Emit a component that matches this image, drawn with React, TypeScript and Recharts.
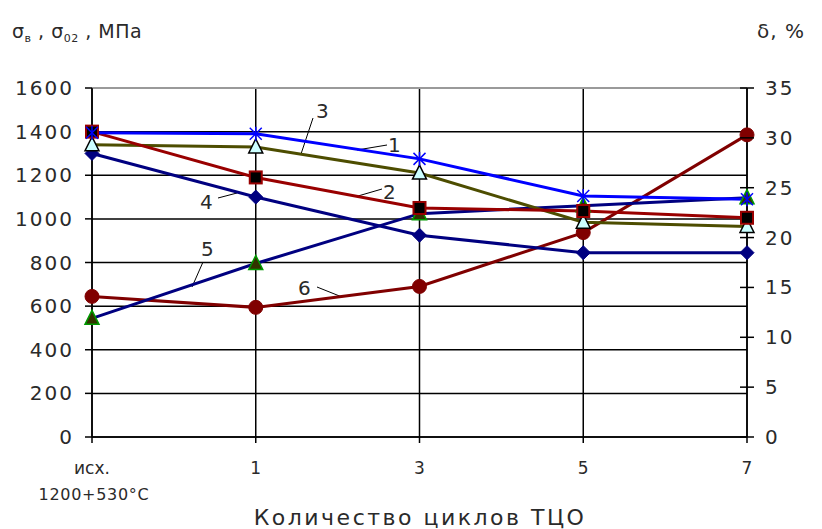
import React from 'react';
import { LineChart, Line, XAxis, YAxis, CartesianGrid, ReferenceLine, Customized } from 'recharts';

const categories = ['исх.', '1', '3', '5', '7'];
const series1 = [1395, 1390, 1275, 1105, 1090];
const series2 = [1400, 1190, 1050, 1036, 1005];
const series3 = [1340, 1330, 1210, 985, 965];
const series4 = [1300, 1100, 925, 845, 845];
const series5 = [11.9, 17.4, 22.4, 23.2, 24.0];
const series6 = [14.1, 13.0, 15.1, 20.5, 30.3];
const leftTicks = [0, 200, 400, 600, 800, 1000, 1200, 1400, 1600];
const rightTicks = [0, 5, 10, 15, 20, 25, 30, 35];

const data = categories.map((c, i) => ({
  cat: c,
  s1: series1[i],
  s2: series2[i],
  s3: series3[i],
  s4: series4[i],
  s5: series5[i],
  s6: series6[i],
}));

const FONT = 'DejaVu Sans, Liberation Sans, sans-serif';
const TXT = '#2a2a2a';

const StarDot = (p: any) => {
  const { cx, cy, index } = p;
  const r = 6;
  return (
    <g key={'st' + index} stroke="#0000ff" strokeWidth={1.5}>
      <line x1={cx - r} y1={cy - r} x2={cx + r} y2={cy + r} />
      <line x1={cx - r} y1={cy + r} x2={cx + r} y2={cy - r} />
      <line x1={cx} y1={cy - r - 1} x2={cx} y2={cy + r + 1} />
    </g>
  );
};

const SquareDot = (p: any) => {
  const { cx, cy, index } = p;
  return <rect key={'sq' + index} x={cx - 6} y={cy - 6} width={12} height={12} fill="#000" stroke="#990000" strokeWidth={2} />;
};

const TriDot = (fill: string, stroke: string, tag: string) => (p: any) => {
  const { cx, cy, index } = p;
  const s = 7;
  return (
    <polygon
      key={tag + index}
      points={`${cx},${cy - s - 1} ${cx - s},${cy + s - 1} ${cx + s},${cy + s - 1}`}
      fill={fill}
      stroke={stroke}
      strokeWidth={1.5}
    />
  );
};

const DiamondDot = (p: any) => {
  const { cx, cy, index } = p;
  const s = 7;
  return <polygon key={'dm' + index} points={`${cx},${cy - s} ${cx + s},${cy} ${cx},${cy + s} ${cx - s},${cy}`} fill="#000080" stroke="#000080" />;
};

const CircleDot = (p: any) => {
  const { cx, cy, index } = p;
  return <circle key={'ci' + index} cx={cx} cy={cy} r={7} fill="#800000" stroke="#800000" />;
};

const XTick = (p: any) => {
  const { x, y, payload, index } = p;
  return (
    <g>
      <line x1={x} y1={y} x2={x} y2={y + 6} stroke="#000" strokeWidth={1.5} />
      <text x={x} y={y + 37} textAnchor="middle" fontSize={17} fontFamily={FONT} fill={TXT}>
        {payload.value}
      </text>
      {index === 0 ? (
        <text x={x + 2} y={y + 63} textAnchor="middle" fontSize={16} fontFamily={FONT} fill={TXT} letterSpacing={0.7}>
          1200+530°C
        </text>
      ) : null}
    </g>
  );
};

const RightTick = (p: any) => {
  const { x, y, payload } = p;
  return (
    <g>
      <line x1={x - 7} y1={y} x2={x + 7} y2={y} stroke="#000" strokeWidth={1.5} />
      <text x={x + 18} y={y + 7} textAnchor="start" fontSize={20} fontFamily={FONT} fill={TXT} letterSpacing={2}>
        {payload.value}
      </text>
    </g>
  );
};

const Annotations = () => (
  <g fontFamily={FONT} fill={TXT} fontSize={20}>
    <text x={12} y={38} fontSize={19} letterSpacing={0.5}>
      σ<tspan fontSize={11} dy={4}>в</tspan>
      <tspan dy={-4}> , σ</tspan>
      <tspan fontSize={11} dy={4}>02</tspan>
      <tspan dy={-4}> , МПа</tspan>
    </text>
    <text x={757} y={38} fontSize={20} letterSpacing={1}>δ, %</text>
    <text x={420} y={525} textAnchor="middle" fontSize={22} letterSpacing={2.5}>Количество циклов ТЦО</text>
    <g stroke="#000" strokeWidth={1}>
      <line x1={313} y1={118} x2={301} y2={154} />
      <line x1={357} y1={150} x2={387} y2={145} />
      <line x1={358} y1={196} x2={382} y2={189} />
      <line x1={218} y1={198} x2={237} y2={193} />
      <line x1={203} y1={262} x2={192} y2={287} />
      <line x1={317} y1={287} x2={342} y2={297} />
    </g>
    <text x={316} y={118}>3</text>
    <text x={388} y={152}>1</text>
    <text x={383} y={199}>2</text>
    <text x={200} y={209}>4</text>
    <text x={201} y={256}>5</text>
    <text x={298} y={295}>6</text>
  </g>
);

export default function App() {
  return (
    <div style={{ position: 'absolute', left: 0, top: 0, width: 822, height: 529, background: '#fff' }}>
      <LineChart width={822} height={529} data={data} margin={{ top: 88, right: 15, bottom: 52, left: 22 }}>
        <CartesianGrid stroke="#000" strokeWidth={1.5} yAxisId="left" />
        <XAxis
          dataKey="cat"
          scale="point"
          padding={{ left: 0, right: 0 }}
          height={40}
          axisLine={{ stroke: '#000', strokeWidth: 1.5 }}
          tickLine={false}
          tickSize={0}
          tickMargin={0}
          tick={<XTick />}
          interval={0}
        />
        <YAxis
          yAxisId="left"
          orientation="left"
          width={70}
          domain={[0, 1600]}
          ticks={leftTicks}
          interval={0}
          axisLine={{ stroke: '#000', strokeWidth: 1.5 }}
          tickLine={{ stroke: '#000', strokeWidth: 1.5 }}
          tickSize={7}
          tickMargin={11}
          tick={{ fontSize: 20, fontFamily: FONT, fill: TXT, letterSpacing: 2 }}
        />
        <YAxis
          yAxisId="right"
          orientation="right"
          width={60}
          domain={[0, 35]}
          ticks={rightTicks}
          interval={0}
          axisLine={{ stroke: '#000', strokeWidth: 1.5 }}
          tickLine={false}
          tickSize={0}
          tickMargin={0}
          tick={<RightTick />}
        />
        <ReferenceLine yAxisId="left" y={1600} stroke="#9a9a9a" strokeWidth={2} />
        <Line yAxisId="right" dataKey="s6" stroke="#800000" strokeWidth={3} dot={CircleDot} isAnimationActive={false} />
        <Line yAxisId="right" dataKey="s5" stroke="#000080" strokeWidth={3} dot={TriDot('#333300', '#009900', 'ta')} isAnimationActive={false} />
        <Line yAxisId="left" dataKey="s4" stroke="#000080" strokeWidth={3} dot={DiamondDot} isAnimationActive={false} />
        <Line yAxisId="left" dataKey="s3" stroke="#4d4d00" strokeWidth={3} dot={TriDot('#ccffff', '#000', 'tb')} isAnimationActive={false} />
        <Line yAxisId="left" dataKey="s2" stroke="#990000" strokeWidth={3} dot={SquareDot} isAnimationActive={false} />
        <Line yAxisId="left" dataKey="s1" stroke="#0000ff" strokeWidth={3} dot={StarDot} isAnimationActive={false} />
        <Customized component={Annotations} />
      </LineChart>
    </div>
  );
}
